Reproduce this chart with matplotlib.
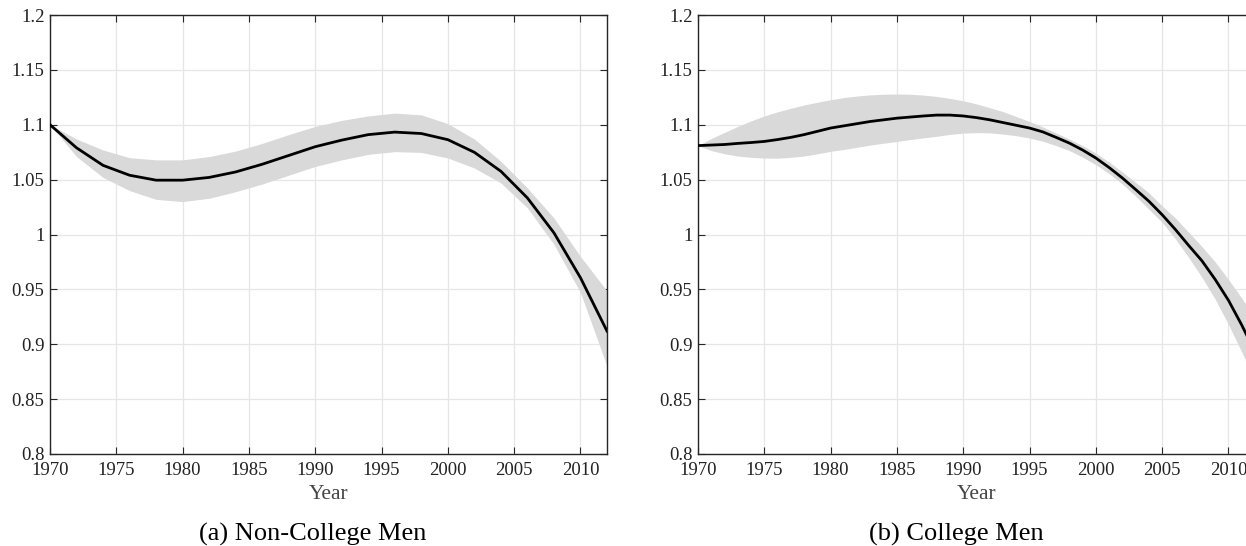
import matplotlib
matplotlib.use("Agg")
import matplotlib.pyplot as plt

plt.rcParams['font.family'] = ['Liberation Serif', 'DejaVu Serif']

# Panel (a): Non-College Men (2-year grid)
nc_years = [1970, 1972, 1974, 1976, 1978, 1980, 1982, 1984, 1986, 1988, 1990,
            1992, 1994, 1996, 1998, 2000, 2002, 2004, 2006, 2008, 2010, 2012]
nc_mean = [1.100, 1.079, 1.063, 1.054, 1.0495, 1.0495, 1.052, 1.057, 1.064, 1.072, 1.080,
           1.086, 1.091, 1.0933, 1.092, 1.0864, 1.0749, 1.0576, 1.0333, 1.0015, 0.9606, 0.912]
nc_upper = [1.100, 1.087, 1.077, 1.070, 1.068, 1.068, 1.071, 1.076, 1.083, 1.091, 1.0985,
            1.104, 1.108, 1.1106, 1.109, 1.101, 1.087, 1.0667, 1.0424, 1.015, 0.980, 0.9485]
nc_lower = [1.100, 1.071, 1.052, 1.040, 1.032, 1.030, 1.033, 1.039, 1.046, 1.054, 1.062,
            1.068, 1.073, 1.0755, 1.0748, 1.0697, 1.0606, 1.047, 1.0242, 0.991, 0.947, 0.880]

# Panel (b): College Men (yearly)
c_years = list(range(1970, 2013))
c_mean = [1.081, 1.0815, 1.082, 1.083, 1.0838, 1.0848, 1.0865, 1.0885, 1.091, 1.094,
          1.097, 1.099, 1.101, 1.103, 1.1045, 1.106, 1.107, 1.108, 1.1088, 1.1088,
          1.108, 1.1065, 1.1045, 1.102, 1.0995, 1.097, 1.0935, 1.0885, 1.0833, 1.077,
          1.0697, 1.061, 1.0515, 1.041, 1.0303, 1.018, 1.0045, 0.990, 0.976, 0.959,
          0.940, 0.9175, 0.893]
c_upper = [1.081, 1.0875, 1.093, 1.0985, 1.1035, 1.108, 1.1118, 1.115, 1.118, 1.1205,
           1.1228, 1.1248, 1.1262, 1.1272, 1.1278, 1.128, 1.1278, 1.127, 1.1258, 1.124,
           1.1218, 1.119, 1.1155, 1.112, 1.1075, 1.103, 1.098, 1.0925, 1.087, 1.081,
           1.0742, 1.066, 1.057, 1.0475, 1.038, 1.026, 1.015, 1.002, 0.989, 0.975,
           0.959, 0.942, 0.924]
c_lower = [1.081, 1.0765, 1.0735, 1.0715, 1.0703, 1.0697, 1.0695, 1.0703, 1.0715, 1.0735,
           1.0758, 1.0775, 1.0795, 1.0815, 1.0832, 1.0848, 1.0865, 1.088, 1.0895, 1.0912,
           1.0924, 1.0928, 1.0926, 1.0915, 1.090, 1.0879, 1.085, 1.081, 1.0765, 1.0705,
           1.0636, 1.0555, 1.046, 1.035, 1.023, 1.011, 0.996, 0.979, 0.961, 0.941,
           0.918, 0.893, 0.866]

xticks = [1970, 1975, 1980, 1985, 1990, 1995, 2000, 2005, 2010]
yticks = [0.8, 0.85, 0.9, 0.95, 1.0, 1.05, 1.1, 1.15, 1.2]
ytick_labels = ['0.8', '0.85', '0.9', '0.95', '1', '1.05', '1.1', '1.15', '1.2']
captions = ['(a) Non-College Men', '(b) College Men']

fig = plt.figure(figsize=(12.46, 5.46), dpi=100)
W, H = 1246, 546
ax1 = fig.add_axes([50 / W, 1 - 454 / H, 557 / W, 439 / H])
ax2 = fig.add_axes([698 / W, 1 - 454 / H, 557 / W, 439 / H])

panels = [(ax1, nc_years, nc_mean, nc_upper, nc_lower),
          (ax2, c_years, c_mean, c_upper, c_lower)]
for ax, yrs, m, u, l in panels:
    ax.fill_between(yrs, l, u, color='#d9d9d9', linewidth=0, zorder=1)
    ax.plot(yrs, m, color='black', lw=2.0, zorder=3, solid_joinstyle='round')
    ax.set_xlim(1970, 2012)
    ax.set_ylim(0.8, 1.2)
    ax.set_xticks(xticks)
    ax.set_yticks(yticks)
    ax.set_yticklabels(ytick_labels)
    ax.grid(True, color='#e6e6e6', lw=0.9, zorder=0)
    ax.set_axisbelow(True)
    ax.tick_params(direction='in', top=True, right=True, length=5, width=0.8,
                   labelsize=13.5, colors='#262626', labelcolor='#222222')
    ax.tick_params(axis='x', pad=6)
    ax.tick_params(axis='y', pad=4)
    for s in ax.spines.values():
        s.set_color('#262626')
        s.set_linewidth(1.0)
    ax.set_xlabel('Year', fontsize=15.5, color='#444444', labelpad=4)

fig.text(313 / W, 1 - 534 / H, captions[0], ha='center', va='center', fontsize=19)
fig.text(956 / W, 1 - 534 / H, captions[1], ha='center', va='center', fontsize=19)

fig.savefig('out.png', dpi=100)
